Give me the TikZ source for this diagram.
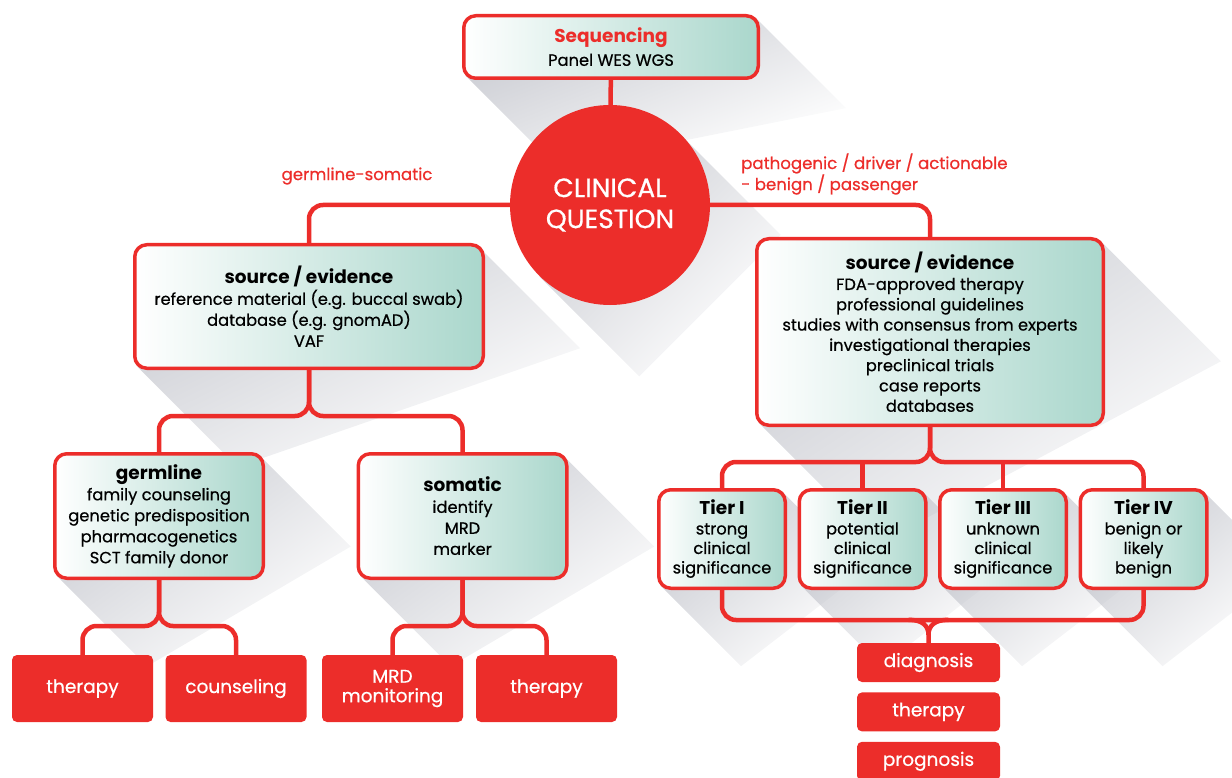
\documentclass[tikz,border=0pt]{standalone}
\usepackage{fontspec}
\setmainfont{Poppins}[UprightFeatures={FakeBold=0.6}]
\usetikzlibrary{positioning, calc, backgrounds, fadings}
\definecolor{cqred}{RGB}{236,45,42}
\definecolor{cqteal}{RGB}{170,215,204}
\definecolor{shadowtone}{RGB}{190,192,200}
\tikzfading[name=shadowfade, top color=transparent!20, bottom color=transparent!100]
\newcommand{\hd}[1]{{\fontsize{18.5}{22}\selectfont\bfseries #1}}
% long diagonal shadow behind a box
\newcommand{\longshadow}[2]{%
  \fill[shadowtone, path fading=shadowfade, fading angle=45]
    ($(#1.north east)+(-4,4)$) -- ++(#2,#2) -- ($(#1.south west)+(#2,#2)+(4,-4)$)
    -- ($(#1.south west)+(4,-4)$) -- cycle;}

\begin{document}
\begin{tikzpicture}[x=1pt, y=-1pt,
    card/.style={draw=cqred, line width=3.5pt, rounded corners=12pt, left color=white,
                 right color=cqteal, align=center, inner sep=2pt,
                 font=\fontsize{16.3}{21}\selectfont},
    tierbox/.style={card, minimum width=126.5pt, minimum height=98.5pt,
                    font=\fontsize{16.3}{19.5}\selectfont},
    outcome/.style={fill=cqred, rounded corners=5pt, text=white, align=center,
                    minimum width=141pt, minimum height=67pt, inner sep=2pt,
                    font=\fontsize{18.5}{19.5}\selectfont},
    smallout/.style={outcome, minimum width=143pt, minimum height=39pt},
    lbl/.style={text=cqred, font=\fontsize{16.6}{20}\selectfont, inner sep=0pt},
    link/.style={draw=cqred, line width=4.5pt, rounded corners=14pt},
]
\useasboundingbox (0,0) rectangle (1232,778);

% --- Top ---
\node[card, minimum width=294.5pt, minimum height=62.5pt, font=\fontsize{16.3}{23}\selectfont] (seq) at (611,47)
  {{\color{cqred}\hd{Sequencing}}\\Panel WES WGS};
\node[circle, fill=cqred, minimum size=200pt, text=white, align=center,
      font=\fontsize{26.5}{31}\selectfont] (cq) at (610,205) {CLINICAL\\QUESTION};

% --- Branch labels ---
\node[lbl] (gslabel) at (357,176) {germline-somatic};
\node[lbl, anchor=west, align=left] (pdlabel) at (741,174)
  {pathogenic / driver / actionable\\- benign / passenger};

% --- Evidence boxes ---
\node[card, minimum width=348.5pt, minimum height=123.5pt] (srcL) at (309,306.5)
  {\hd{source / evidence}\\reference material (e.g. buccal swab)\\database (e.g. gnomAD)\\VAF};
\node[card, minimum width=346.5pt, minimum height=186.5pt, font=\fontsize{16.3}{20.3}\selectfont] (srcR) at (930,332)
  {\hd{source / evidence}\\FDA-approved therapy\\professional guidelines\\studies with consensus from experts\\investigational therapies\\preclinical trials\\case reports\\databases};

% --- Germline / somatic ---
\node[card, minimum width=208.5pt, minimum height=124.5pt] (germ) at (159,516)
  {\hd{germline}\\family counseling\\genetic predisposition\\pharmacogenetics\\SCT family donor};
\node[card, minimum width=208.5pt, minimum height=124.5pt] (soma) at (462.5,516)
  {\hd{somatic}\\identify\\MRD\\marker};

% --- Tiers ---
\node[tierbox] (t1) at (722,539) {\hd{Tier I}\\strong\\clinical\\significance};
\node[tierbox, right=10.5pt of t1] (t2) {\hd{Tier II}\\potential\\clinical\\significance};
\node[tierbox, right=10.5pt of t2] (t3) {\hd{Tier III}\\unknown\\clinical\\significance};
\node[tierbox, right=10.5pt of t3] (t4) {\hd{Tier IV}\\benign or\\likely\\benign};

% --- Outcomes ---
\node[outcome] (gther) at (82.5,688.5) {therapy};
\node[outcome] (gcoun) at (236,688.5) {counseling};
\node[outcome] (smrd) at (392.5,688.5) {MRD\\monitoring};
\node[outcome] (sther) at (546.5,688.5) {therapy};
\node[smallout] (diag) at (928.5,662.5) {diagnosis};
\node[smallout, below=10pt of diag] (tther) {therapy};
\node[smallout, below=10pt of tther] (prog) {prognosis};

% --- Shadows ---
\begin{scope}[on background layer]
  \longshadow{seq}{90}
  \fill[shadowtone, path fading=shadowfade, fading angle=45]
    (cq.45) -- ++(100,100) -- ($(cq.225)+(100,100)$) -- (cq.225) -- cycle;
  \longshadow{srcL}{100}
  \longshadow{srcR}{120}
  \longshadow{germ}{90}
  \longshadow{soma}{90}
  \longshadow{t1}{80}
  \longshadow{t2}{80}
  \longshadow{t3}{80}
  \longshadow{t4}{80}
\end{scope}

% --- Connectors ---
\draw[link] (seq) -- (cq);
\draw[link] (cq.west) -| (srcL.north);
\draw[link] (cq.east) -| (srcR.north);

\draw[link] (srcL.south) -- ++(0,46) -| (germ.north);
\draw[link] (srcL.south) -- ++(0,46) -| (soma.north);
\draw[link] (germ.south) -- ++(0,46) -| (gther.north);
\draw[link] (germ.south) -- ++(0,46) -| (gcoun.north);
\draw[link] (soma.south) -- ++(0,46) -| (smrd.north);
\draw[link] (soma.south) -- ++(0,46) -| (sther.north);

\coordinate[below=35pt of srcR.south] (rsplit);
\draw[link] (srcR.south) -- (rsplit) -| (t1.north);
\draw[link] (srcR.south) -- (rsplit) -| (t4.north);
\draw[link] (t2.north) -- (t2.north |- rsplit);
\draw[link] (t3.north) -- (t3.north |- rsplit);

\draw[link] (t1.south) -- ++(0,30) -| (t4.south);
\draw[link, rounded corners=0pt] ($(diag.north)+(-20,-23)$) .. controls ($(diag.north)+(-6,-23)$) and ($(diag.north)+(0,-17)$) .. ($(diag.north)+(0,-8)$)
  -- (diag.north);
\draw[link, rounded corners=0pt] ($(diag.north)+(20,-23)$) .. controls ($(diag.north)+(6,-23)$) and ($(diag.north)+(0,-17)$) .. ($(diag.north)+(0,-8)$);

\end{tikzpicture}
\end{document}
